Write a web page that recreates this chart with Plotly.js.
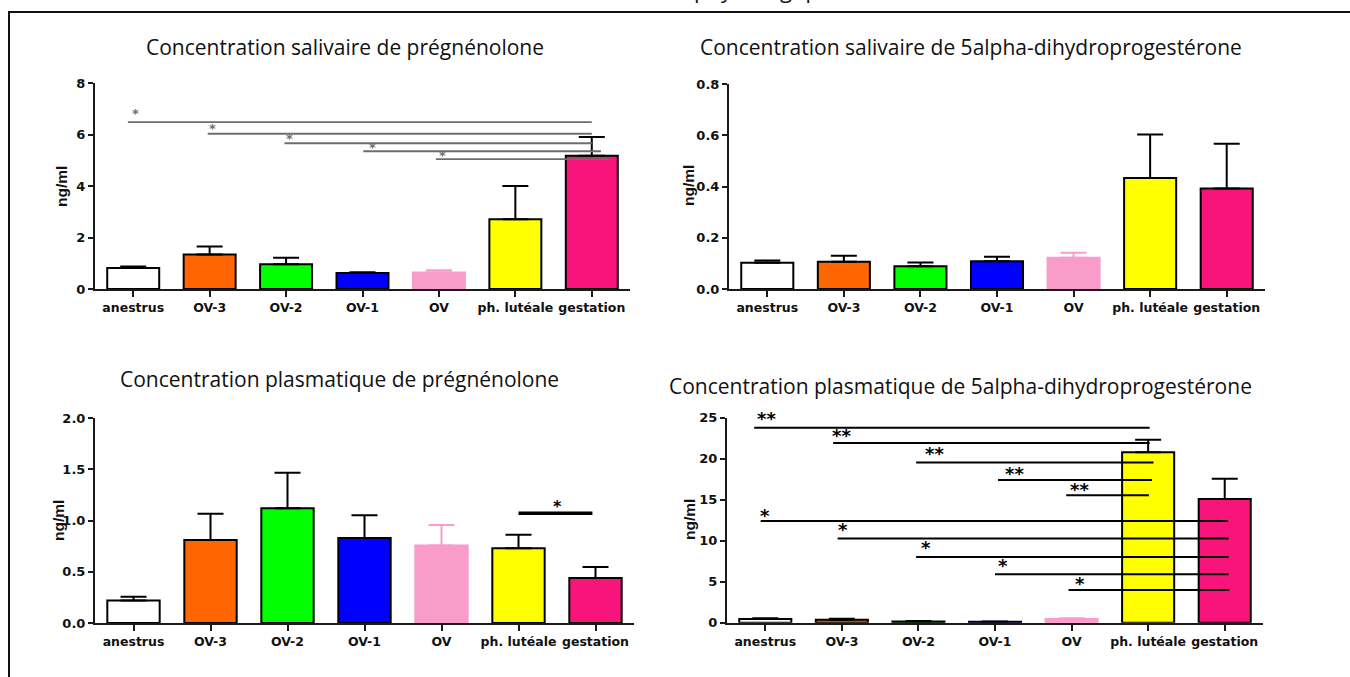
<!DOCTYPE html>
<html><head><meta charset="utf-8">
<script src="https://cdn.plot.ly/plotly-3.0.1.min.js"></script>
<style>html,body{margin:0;padding:0;background:#fff;}#chart{width:1350px;height:677px;}</style>
</head><body><div id="chart"></div>
<script>
// ---------- data ----------
const categories = ['anestrus','OV-3','OV-2','OV-1','OV','ph. lutéale','gestation'];

const titles = [
  'Concentration salivaire de prégnénolone',
  'Concentration salivaire de 5alpha-dihydroprogestérone',
  'Concentration plasmatique de prégnénolone',
  'Concentration plasmatique de 5alpha-dihydroprogestérone'
];
const yLabel = 'ng/ml';

const salPregMean = [0.82, 1.34, 0.96, 0.62, 0.64, 2.71, 5.17];
const salPregSem  = [0.05, 0.31, 0.25, 0.03, 0.09, 1.29, 0.73];

const salDhpMean = [0.102, 0.106, 0.089, 0.108, 0.122, 0.433, 0.392];
const salDhpSem  = [0.009, 0.024, 0.014, 0.018, 0.019, 0.170, 0.175];

const plaPregMean = [0.22, 0.81, 1.12, 0.83, 0.755, 0.73, 0.44];
const plaPregSem  = [0.035, 0.255, 0.345, 0.22, 0.20, 0.13, 0.107];

const plaDhpMean = [0.45, 0.35, 0.15, 0.12, 0.45, 20.8, 15.08];
const plaDhpSem  = [0.10, 0.12, 0.05, 0.03, 0.10, 1.50, 2.48];

// significance bars: start / end (category index), level (ng/ml), label, label position
const sig1Start = [-0.07, 0.975, 1.98, 3.01, 3.96];
const sig1End   = [6.0, 6.0, 6.0, 6.12, 6.23];
const sig1Level = [6.48, 6.03, 5.66, 5.35, 5.04];
const sig1Text  = ['*','*','*','*','*'];
const sig1TextX = [0.035, 1.04, 2.05, 3.13, 4.05];
const sig1TextY = [6.8, 6.25, 5.83, 5.5, 5.18];

const sig3Start = [5.0];
const sig3End   = [5.96];
const sig3Level = [1.07];
const sig3Text  = ['*'];
const sig3TextX = [5.5];
const sig3TextY = [1.14];

const sig4Start = [-0.145, 0.886, 1.97, 3.04, 3.93, -0.06, 0.945, 1.97, 3.0, 3.96];
const sig4End   = [5.02, 5.02, 5.07, 5.05, 5.01, 6.04, 6.05, 6.05, 6.05, 6.06];
const sig4Level = [23.78, 21.9, 19.55, 17.4, 15.53, 12.4, 10.28, 8.0, 5.9, 3.98];
const sig4Text  = ['**','**','**','**','**','*','*','*','*','*'];
const sig4TextX = [0.02, 1.0, 2.21, 3.25, 4.1, 0.0, 1.01, 2.1, 3.1, 4.11];
const sig4TextY = [24.9, 22.8, 20.6, 18.2, 16.3, 13.05, 11.4, 9.15, 7.0, 4.8];

// ---------- style ----------
const W = 1350, H = 677;
const fillColors = ['#FFFFFF','#FF6600','#00FF00','#0000FF','#F99CC9','#FFFF00','#F7157C'];
const lineColors = ['#000','#000','#000','#000','#F99CC9','#000','#000'];
const px = v => v / W;
const py = v => 1 - v / H;

const panels = [
  {mean: salPregMean, sem: salPregSem, x:[95,630], y:[289,83], range:[0,8], dtick:2, fmt:'', title:[345,47], ylab:[61,186],
   sig:{s:sig1Start,e:sig1End,l:sig1Level,t:sig1Text,tx:sig1TextX,ty:sig1TextY}, sigColor:'#6e6e6e', sigW:1.8, starSize:13},
  {mean: salDhpMean, sem: salDhpSem, x:[729,1265], y:[289,84], range:[0,0.8], dtick:0.2, fmt:'.1f', title:[971,47], ylab:[688,186], sig:null},
  {mean: plaPregMean, sem: plaPregSem, x:[95,634], y:[623,418], range:[0,2], dtick:0.5, fmt:'.1f', title:[340,379], ylab:[58,520],
   sig:{s:sig3Start,e:sig3End,l:sig3Level,t:sig3Text,tx:sig3TextX,ty:sig3TextY}, sigColor:'#000', sigW:3.5, starSize:16},
  {mean: plaDhpMean, sem: plaDhpSem, x:[727,1263], y:[622.7,417.7], range:[0,25], dtick:5, fmt:'', title:[960,386], ylab:[689,520],
   sig:{s:sig4Start,e:sig4End,l:sig4Level,t:sig4Text,tx:sig4TextX,ty:sig4TextY}, sigColor:'#000', sigW:2, starSize:18}
];

const xTickFont = {family:'DejaVu Sans', size:12.5, color:'#111', weight:'bold'};
const yTickFont = {family:'DejaVu Sans', size:13, color:'#111', weight:'bold'};
const data = [];
const layout = {
  width: W, height: H, margin:{l:0,r:0,t:0,b:0}, paper_bgcolor:'#fff', plot_bgcolor:'rgba(0,0,0,0)',
  showlegend:false, barmode:'overlay', shapes:[], annotations:[]
};

panels.forEach((p, i) => {
  const n = i === 0 ? '' : String(i + 1);
  const xa = 'x' + n, ya = 'y' + n;
  categories.forEach((c, k) => {
    data.push({
      type:'bar', x:[c], y:[p.mean[k]], xaxis:xa, yaxis:ya, width:0.68,
      marker:{color:fillColors[k], line:{color:lineColors[k], width:2}},
      error_y:{type:'data', symmetric:false, array:[p.sem[k]], arrayminus:[0], color:lineColors[k], thickness:2, width:13},
      hoverinfo:'skip'
    });
  });
  layout['xaxis' + n] = {
    domain:[px(p.x[0]), px(p.x[1])], anchor:ya, type:'category', categoryorder:'array', categoryarray:categories,
    range:[-0.5, 6.5], showline:true, linecolor:'#1a1a1a', linewidth:2, ticks:'outside', ticklen:6, tickwidth:2, tickcolor:'#1a1a1a',
    showgrid:false, zeroline:false, tickfont:xTickFont, fixedrange:true
  };
  layout['yaxis' + n] = {
    domain:[py(p.y[0]), py(p.y[1])], anchor:xa, range:p.range, dtick:p.dtick, tick0:0, tickformat:p.fmt,
    showline:true, linecolor:'#1a1a1a', linewidth:2, ticks:'outside', ticklen:5, tickwidth:2, tickcolor:'#1a1a1a',
    showgrid:false, zeroline:false, tickfont:yTickFont, fixedrange:true
  };
  // panel title
  layout.annotations.push({xref:'paper', yref:'paper', x:px(p.title[0]), y:py(p.title[1]), xanchor:'center', yanchor:'middle',
    text:titles[i], showarrow:false, font:{family:'Open Sans', size:21, color:'#111'}});
  // y label
  layout.annotations.push({xref:'paper', yref:'paper', x:px(p.ylab[0]), y:py(p.ylab[1]), xanchor:'center', yanchor:'middle',
    text:yLabel, textangle:-90, showarrow:false, font:{family:'Liberation Sans', size:15.5, color:'#111', weight:'bold'}});
  // significance bars
  if (p.sig) {
    p.sig.s.forEach((s, j) => {
      layout.shapes.push({type:'line', xref:xa, yref:ya, x0:s, x1:p.sig.e[j], y0:p.sig.l[j], y1:p.sig.l[j],
        line:{color:p.sigColor, width:p.sigW}});
      layout.annotations.push({xref:xa, yref:ya, x:p.sig.tx[j], y:p.sig.ty[j], xanchor:'center', yanchor:'middle',
        text:p.sig.t[j], showarrow:false, font:{family:'DejaVu Sans', size:p.starSize, color:p.sigColor, weight:'bold'}, borderpad:0});
    });
  }
});

// outer frame and cropped heading
layout.shapes.push({type:'rect', xref:'paper', yref:'paper', x0:px(9), x1:1.02, y0:-0.05, y1:py(12), line:{color:'#111', width:2}, fillcolor:'rgba(0,0,0,0)'});
layout.annotations.push({xref:'paper', yref:'paper', x:px(770), y:py(-11), xanchor:'center', yanchor:'middle',
  text:'physiologiques', showarrow:false, font:{family:'Open Sans', size:22, color:'#111'}});

Plotly.newPlot('chart', data, layout, {staticPlot:true, displayModeBar:false});
</script></body></html>
